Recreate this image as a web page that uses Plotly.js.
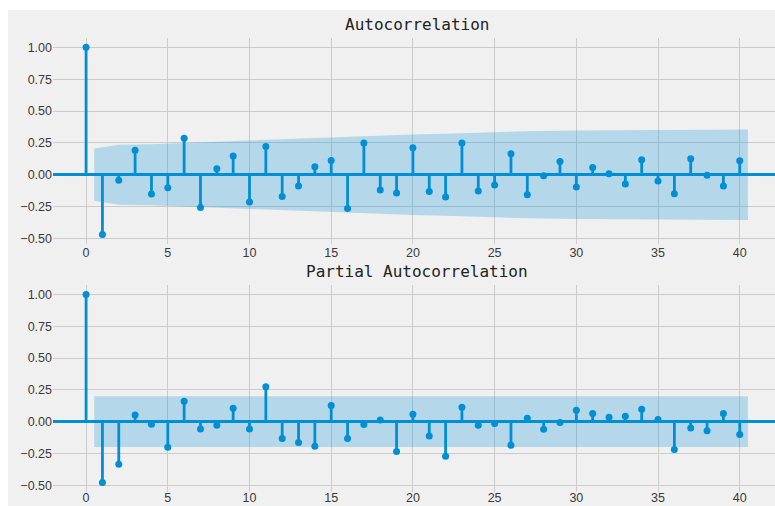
<!DOCTYPE html>
<html>
<head>
<meta charset="utf-8">
<script src="https://cdn.plot.ly/plotly-3.0.1.min.js"></script>
<style>
  html, body { margin: 0; padding: 0; background: #ffffff; overflow: hidden; width: 775px; height: 506px; }
  #chart { position: absolute; left: 8px; top: 10px; width: 773px; height: 496px; }
</style>
</head>
<body>
<div id="chart"></div>
<script>
// ---- data ----
const lags = [0,1,2,3,4,5,6,7,8,9,10,11,12,13,14,15,16,17,18,19,20,21,22,23,24,25,26,27,28,29,30,31,32,33,34,35,36,37,38,39,40];

const acfValues = [1.00,-0.47,-0.044,0.193,-0.151,-0.102,0.287,-0.258,0.047,0.146,-0.214,0.222,-0.172,-0.089,
  0.063,0.112,-0.266,0.248,-0.12,-0.144,0.211,-0.131,-0.175,0.248,-0.128,-0.081,0.164,-0.157,
  -0.008,0.104,-0.097,0.057,0.008,-0.073,0.117,-0.05,-0.149,0.125,-0.005,-0.089,0.110];

const pacfValues = [1.00,-0.48,-0.336,0.052,-0.021,-0.202,0.160,-0.058,-0.029,0.105,-0.058,0.273,-0.134,-0.165,
  -0.194,0.126,-0.134,-0.024,0.013,-0.236,0.058,-0.113,-0.273,0.113,-0.029,-0.016,-0.186,0.027,
  -0.06,-0.008,0.089,0.063,0.034,0.042,0.097,0.016,-0.22,-0.05,-0.073,0.063,-0.102];

// confidence band (half width) for ACF, read at several lags
const acfConfLags = [0.5, 2, 4, 7, 10, 12, 14, 17, 18, 20, 22, 24, 27, 30, 35, 40.5];
const acfConfHalf = [0.205, 0.235, 0.24, 0.255, 0.27, 0.28, 0.29, 0.30, 0.31, 0.316, 0.322, 0.332, 0.342, 0.347, 0.352, 0.355];

// confidence band for PACF
const pacfConfLags = [0.5, 40.5];
const pacfConfHalf = [0.20, 0.20];

const titles = ["Autocorrelation", "Partial Autocorrelation"];
const xTicks = [0,5,10,15,20,25,30,35,40];
const yTicks = [-0.5,-0.25,0,0.25,0.5,0.75,1.0];

// ---- styling ----
const BLUE = '#008fd5';
const BAND = 'rgba(0,143,213,0.25)';
const BG = '#f0f0f0';
const GRID = '#cbcbcb';

function stemTraces(vals, xa, ya, confLags, confHalf) {
  const sx = [], sy = [];
  lags.forEach((l, i) => { sx.push(l, l, null); sy.push(0, vals[i], null); });
  const upper = confHalf.slice();
  const lower = confHalf.map(v => -v);
  return [
    { x: sx, y: sy, mode: 'lines', line: { color: BLUE, width: 2.8 }, xaxis: xa, yaxis: ya, hoverinfo: 'skip', showlegend: false },
    { x: lags, y: vals, mode: 'markers', marker: { color: BLUE, size: 7 }, xaxis: xa, yaxis: ya, showlegend: false },
    { x: confLags, y: upper, mode: 'lines', line: { width: 0, color: BAND }, xaxis: xa, yaxis: ya, hoverinfo: 'skip', showlegend: false },
    { x: confLags, y: lower, mode: 'lines', line: { width: 0, color: BAND }, fill: 'tonexty', fillcolor: BAND, xaxis: xa, yaxis: ya, hoverinfo: 'skip', showlegend: false }
  ];
}

const data = [].concat(
  stemTraces(acfValues, 'x', 'y', acfConfLags, acfConfHalf),
  stemTraces(pacfValues, 'x2', 'y2', pacfConfLags, pacfConfHalf)
);

const tickFont = { family: 'Liberation Sans, Arial, sans-serif', size: 12.5, color: '#3a3a3a' };
const xBase = {
  range: [-2.025, 42.525], tickvals: xTicks, showgrid: true, gridcolor: GRID, gridwidth: 1,
  zeroline: false, showline: false, ticks: '', tickfont: tickFont, fixedrange: true
};
const yBase = {
  tickvals: yTicks, tickformat: '.2f', showgrid: true, gridcolor: GRID, gridwidth: 1,
  zeroline: true, zerolinecolor: BLUE, zerolinewidth: 3.5, showline: false, ticks: '',
  tickfont: tickFont, fixedrange: true
};

const topDom = [0.5463, 1.0];
const botDom = [0.0, 0.4559];

const layout = {
  width: 773, height: 496,
  paper_bgcolor: BG, plot_bgcolor: BG,
  margin: { l: 45, r: 0, t: 28, b: 14 },
  showlegend: false,
  xaxis: Object.assign({}, xBase, { anchor: 'y', domain: [0, 1] }),
  yaxis: Object.assign({}, yBase, { anchor: 'x', domain: topDom, range: [-0.544, 1.0735] }),
  xaxis2: Object.assign({}, xBase, { anchor: 'y2', domain: [0, 1], ticklabelstandoff: -4 }),
  yaxis2: Object.assign({}, yBase, { anchor: 'x2', domain: botDom, range: [-0.554, 1.074] }),
  annotations: [
    { text: titles[0], xref: 'paper', yref: 'paper', x: 0.5, y: topDom[1], xanchor: 'center', yanchor: 'bottom', yshift: 2,
      showarrow: false, font: { family: 'DejaVu Sans Mono, monospace', size: 16, color: '#222' } },
    { text: titles[1], xref: 'paper', yref: 'paper', x: 0.5, y: botDom[1], xanchor: 'center', yanchor: 'bottom', yshift: 2,
      showarrow: false, font: { family: 'DejaVu Sans Mono, monospace', size: 16, color: '#222' } }
  ]
};

Plotly.newPlot('chart', data, layout, { displayModeBar: false, staticPlot: true });
</script>
</body>
</html>
